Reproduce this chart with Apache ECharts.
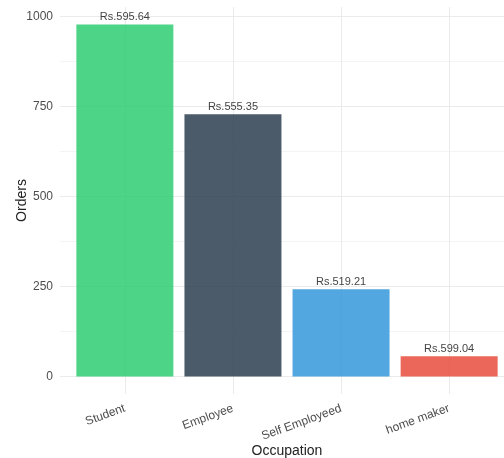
<!DOCTYPE html>
<html>
<head>
<meta charset="utf-8">
<script src="https://cdn.jsdelivr.net/npm/echarts@6/dist/echarts.min.js"></script>
<style>
  html, body { margin: 0; padding: 0; background: #fff; }
  #main { width: 504px; height: 458px; }
</style>
</head>
<body>
<div id="main"></div>
<script>
var occupations = ['Student', 'Employee', 'Self Employeed', 'home maker'];
var orders = [978, 729, 242, 56];
var avgSpend = [595.64, 555.35, 519.21, 599.04];
var barColors = ['#2ecc71', '#2c3e50', '#3498db', '#e74c3c'];
var yLabels = [0, 250, 500, 750, 1000];
var yGrid = [0, 125, 250, 375, 500, 625, 750, 875, 1000];

var myChart = echarts.init(document.getElementById('main'), null, { renderer: 'canvas' });

var font = 'Liberation Sans, Arial, sans-serif';

var barData = orders.map(function (v, i) {
  return {
    value: [i + 1, v],
    itemStyle: { color: barColors[i], opacity: 0.85 }
  };
});

var option = {
  animation: false,
  grid: { left: 60, right: -10, top: 7, bottom: 64, containLabel: false, outerBoundsMode: 'none' },
  xAxis: {
    type: 'value',
    min: 0.4,
    max: 4.6,
    name: 'Occupation',
    nameLocation: 'middle',
    nameGap: 50,
    nameMoveOverlap: false,
    nameTextStyle: { fontFamily: font, fontSize: 14, color: '#222' },
    axisLine: { show: false },
    axisTick: { show: false, customValues: [1, 2, 3, 4] },
    axisLabel: {
      customValues: [1, 2, 3, 4],
      rotate: 20,
      margin: 14,
      fontFamily: font,
      fontSize: 12,
      color: '#4d4d4d',
      formatter: function (v) { return occupations[Math.round(v) - 1]; }
    },
    splitLine: { show: true, lineStyle: { color: '#ebebeb', width: 1 } }
  },
  yAxis: {
    type: 'value',
    min: -48.9,
    max: 1026.9,
    name: 'Orders',
    nameLocation: 'middle',
    nameGap: 31,
    nameMoveOverlap: false,
    nameTextStyle: { fontFamily: font, fontSize: 14, color: '#222' },
    axisLine: { show: false },
    axisTick: { show: false, customValues: yGrid },
    axisLabel: {
      customValues: yLabels,
      margin: 7,
      fontFamily: font,
      fontSize: 12,
      color: '#4d4d4d',
      formatter: function (v) { return String(v); }
    },
    splitLine: { show: true, lineStyle: { color: ['#ebebeb', '#f4f4f4'], width: 1 } }
  },
  series: [{
    type: 'bar',
    barWidth: 97,
    data: barData,
    label: {
      show: true,
      position: 'top',
      distance: 2,
      fontFamily: font,
      fontSize: 11,
      color: '#222',
      formatter: function (p) { return 'Rs.' + avgSpend[p.dataIndex].toFixed(2); }
    }
  }]
};

myChart.setOption(option);
</script>
</body>
</html>
